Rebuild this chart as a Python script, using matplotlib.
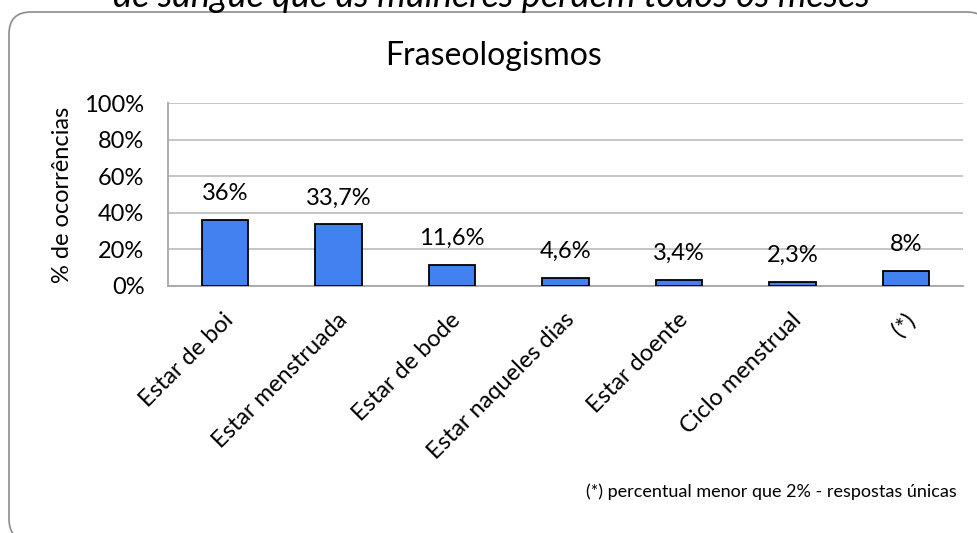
import matplotlib.pyplot as plt
import matplotlib.transforms as mtransforms
from matplotlib.patches import FancyBboxPatch

plt.rcParams['font.family'] = ['Lato', 'DejaVu Sans']

# Dados do gráfico
categorias = ['Estar de boi', 'Estar menstruada', 'Estar de bode',
              'Estar naqueles dias', 'Estar doente', 'Ciclo menstrual', '(*)']
percentuais = [36, 33.7, 11.6, 4.6, 3.4, 2.3, 8]
rotulos = ['36%', '33,7%', '11,6%', '4,6%', '3,4%', '2,3%', '8%']
yticks = [0, 20, 40, 60, 80, 100]

fig = plt.figure(figsize=(9.78, 5.33), dpi=100)
ax = fig.add_axes([168 / 978, 1 - 286 / 533, 795 / 978, 183 / 533])

# Moldura arredondada do gráfico
moldura = FancyBboxPatch((0.09, -0.08), 9.8, 5.29,
                         boxstyle='round,pad=0,rounding_size=0.22',
                         transform=fig.dpi_scale_trans, facecolor='white',
                         edgecolor='#8c8c8c', linewidth=1.2, zorder=-10)
fig.patches.append(moldura)

x = range(len(categorias))
ax.bar(x, percentuais, width=0.41, color='#4182f0', edgecolor='black',
       linewidth=1.3, zorder=3)

for i, (v, r) in enumerate(zip(percentuais, rotulos)):
    ax.annotate(r, (i, v), xytext=(0, 19), textcoords='offset points',
                ha='center', va='center', fontsize=17)

ax.set_xlim(-0.5, len(categorias) - 0.5)
ax.set_ylim(0, 100)
ax.set_yticks(yticks)
ax.set_yticklabels([f'{t}%' for t in yticks], fontsize=17)
ax.yaxis.grid(True, color='#c0c0c0', linewidth=1.3, zorder=0)
ax.set_axisbelow(True)

# Rótulos das categorias inclinados a 45 graus
ax.set_xticks(list(x))
ax.set_xticklabels([])
desloc = mtransforms.ScaledTranslation(4 / 72, -22 / 72, fig.dpi_scale_trans)
for i, cat in enumerate(categorias):
    ax.text(i, 0, cat, transform=ax.get_xaxis_transform() + desloc,
            rotation=45, ha='right', va='center', rotation_mode='anchor',
            fontsize=17)

ax.tick_params(axis='x', length=0)
ax.tick_params(axis='y', length=0, pad=17)
for lado in ['top', 'right']:
    ax.spines[lado].set_visible(False)
for lado in ['left', 'bottom']:
    ax.spines[lado].set_color('#a6a6a6')
    ax.spines[lado].set_linewidth(1.3)

ax.set_ylabel('% de ocorrências', fontsize=17, labelpad=8)

fig.text(494 / 978, 1 - 56 / 533, 'Fraseologismos', ha='center',
         va='center', fontsize=23)
fig.text(491 / 978, 1 - 7 / 533,
         'de sangue que as mulheres perdem todos os meses',
         ha='center', va='baseline', fontsize=26, style='italic')
fig.text(957 / 978, 1 - 492 / 533,
         '(*) percentual menor que 2% - respostas únicas',
         ha='right', va='center', fontsize=13)

fig.savefig('out.png', dpi=100)
